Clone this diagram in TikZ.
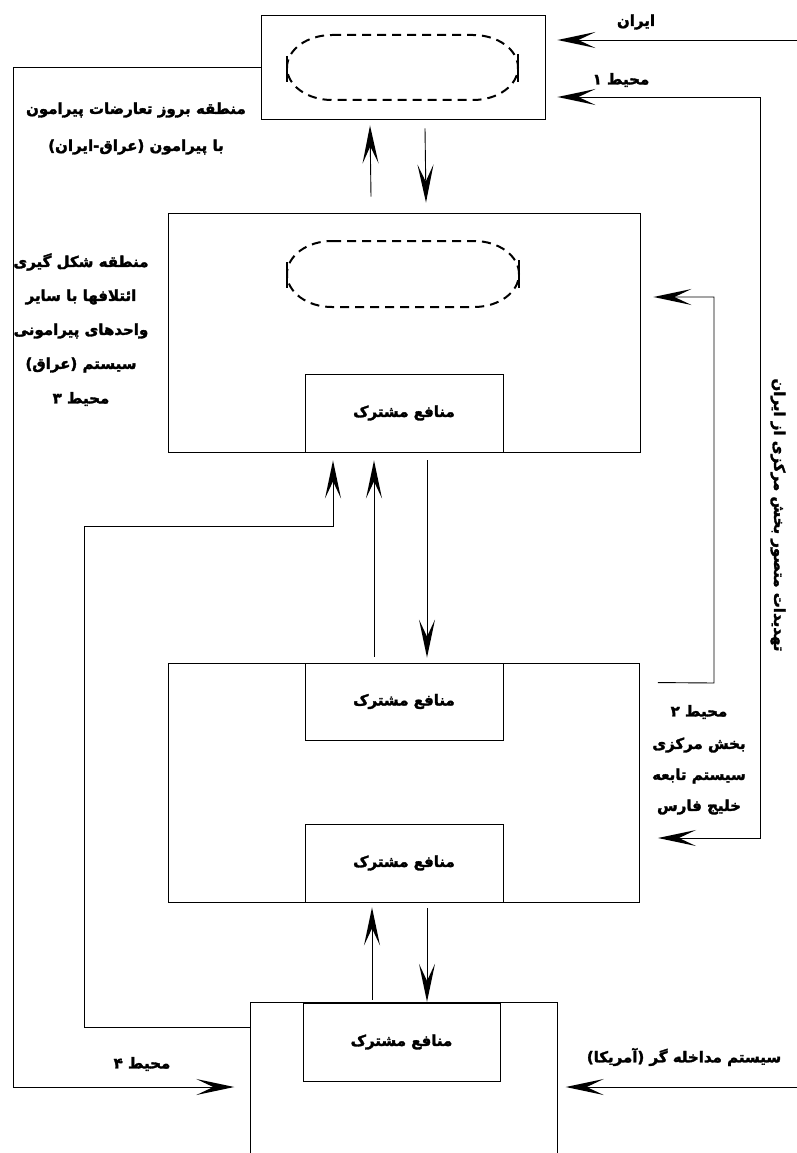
\documentclass[tikz,border=0pt]{standalone}
\usepackage{fontspec}
\usetikzlibrary{arrows.meta,calc}
\TeXXeTstate=1
\newfontfamily\fa[Script=Arabic, BoldFeatures={FakeBold=2}]{DejaVu Sans}
\tikzset{
  box/.style={draw, line width=0.9pt, minimum width=#1, inner sep=0pt},
  lbl/.style={font=\fa\bfseries\fontsize{15}{17}\selectfont, inner sep=0pt},
  tip/.tip={Stealth[length=38pt,width=16pt,inset=17pt,line width=1.6pt]},
  arr/.style={line width=0.9pt, -tip},
  arrs/.style={line width=0.9pt, tip-},
  arrb/.style={line width=0.9pt, tip-tip},
  dsh/.style={line width=2pt, dash pattern=on 9pt off 6pt},
  tick/.style={line width=2pt}
}
\begin{document}
\begin{tikzpicture}[x=1pt,y=-1pt]
\useasboundingbox (0,0) rectangle (797,1153);
% boxes
\node[box=284pt, minimum height=104pt] (top) at (403,67) {};
\node[box=472pt, minimum height=239pt] (mid) at (404,332.5) {};
\node[box=198pt, minimum height=78pt, lbl] (midin) at (404,413) {\beginR منافع مشترک\endR};
\node[box=471pt, minimum height=239pt] (low) at (404,782.5) {};
\node[box=198pt, minimum height=77pt, lbl] (lowin1) at (404,701.5) {\beginR منافع مشترک\endR};
\node[box=198pt, minimum height=78pt, lbl] (lowin2) at (404,863) {\beginR منافع مشترک\endR};
\node[minimum width=307pt, minimum height=150pt, inner sep=0pt] (bot) at (404,1078) {};
\draw[line width=0.9pt] (bot.south west) |- (bot.north east) -- (bot.south east);
\node[box=197pt, minimum height=78pt, lbl] (botin) at (401.5,1042) {\beginR منافع مشترک\endR};
% dashed ovals
\draw[dsh] (332,35) -- (473,35) arc[start angle=-90, end angle=90, x radius=45, y radius=32.5] -- (332,100) arc[start angle=90, end angle=270, x radius=45, y radius=32.5];
\draw[tick] (287,56) -- (287,82);
\draw[tick] (518,54) -- (518,82);
\draw[dsh] (332,241) -- (474,241) arc[start angle=-90, end angle=90, x radius=45, y radius=33] -- (332,307) arc[start angle=90, end angle=270, x radius=45, y radius=33];
\draw[tick] (287,262) -- (287,288);
\draw[tick] (519,260) -- (519,288);
% vertical arrows
\draw[arr] ([xshift=-33pt,yshift=16pt]mid.north) -- ([xshift=-33pt,yshift=-6pt]top.south);
\draw[arr] ([xshift=22pt,yshift=-9pt]top.south) -- ([xshift=22pt,yshift=10pt]mid.north);
\draw[arr] ([xshift=-30pt,yshift=6pt]low.north) -- ([xshift=-30pt,yshift=-8pt]mid.south);
\draw[arr] ([xshift=23pt,yshift=-8pt]mid.south) -- ([xshift=23pt,yshift=5pt]low.north);
\draw[arr] ([xshift=-32pt,yshift=3pt]bot.north) -- ([xshift=-32pt,yshift=-5pt]low.south);
\draw[arr] ([xshift=23pt,yshift=-6pt]low.south) -- ([xshift=23pt,yshift=1pt]bot.north);
% left loops
\coordinate (lo) at (13,67);
\draw[arr] (top.west) -- (lo) |- ([xshift=-16pt,yshift=-9pt]bot.west);
\coordinate (l2) at (84,526);
\draw[arr] ([yshift=51pt]bot.west) -| (l2) -| ([xshift=-71pt,yshift=-8pt]mid.south);
% right side
\coordinate (iranR) at (797,40);
\draw[arr] (iranR) -- ($(top.east)+(12,-27)$);
\coordinate (r1) at (760,97);
\coordinate (r2) at (760,838);
\draw[arrb] ($(top.east)+(12,30)$) -- (r1) -- (r2) -- ($(low.east)+(18,55.5)$);
\coordinate (m1) at (714,297);
\coordinate (m2) at (714,683);
\draw[arrs] ($(mid.east)+(13,-35.5)$) -- (m1) -- (m2) -- ($(low.north east)+(18,20)$);
\coordinate (usR) at (797,1087);
\draw[arr] (usR) -- ($(bot.east)+(8,9)$);
% labels
\node[lbl] (tIran) at (636,22) {\beginR ایران\endR};
\node[lbl] (tM1) at (621,80) {\beginR محیط ۱\endR};
\node[lbl] (tA1) at (136,110) {\beginR منطقه بروز تعارضات پیرامون\endR};
\node[lbl] (tA2) at (136,147) {\beginR با پیرامون (عراق-ایران)\endR};
\node[lbl] (tB1) at (81,262) {\beginR منطقه شکل گیری\endR};
\node[lbl] (tB2) at (81,297) {\beginR ائتلافها با سایر\endR};
\node[lbl] (tB3) at (81,331) {\beginR واحدهای پیرامونی\endR};
\node[lbl] (tB4) at (81,365) {\beginR سیستم (عراق)\endR};
\node[lbl] (tB5) at (81,399) {\beginR محیط ۳\endR};
\node[lbl] (tC1) at (699,712) {\beginR محیط ۲\endR};
\node[lbl] (tC2) at (699,745) {\beginR بخش مرکزی\endR};
\node[lbl] (tC3) at (699,776) {\beginR سیستم تابعه\endR};
\node[lbl] (tC4) at (699,807) {\beginR خلیج فارس\endR};
\node[lbl] (tM4) at (142,1064) {\beginR محیط ۴\endR};
\node[lbl] (tUS) at (684,1057) {\beginR سیستم مداخله گر (آمریکا)\endR};
\node[lbl, rotate=-90] (tV) at (778,515) {\beginR تهدیدات متصور بخش مرکزی از ایران\endR};
\end{tikzpicture}
\end{document}
